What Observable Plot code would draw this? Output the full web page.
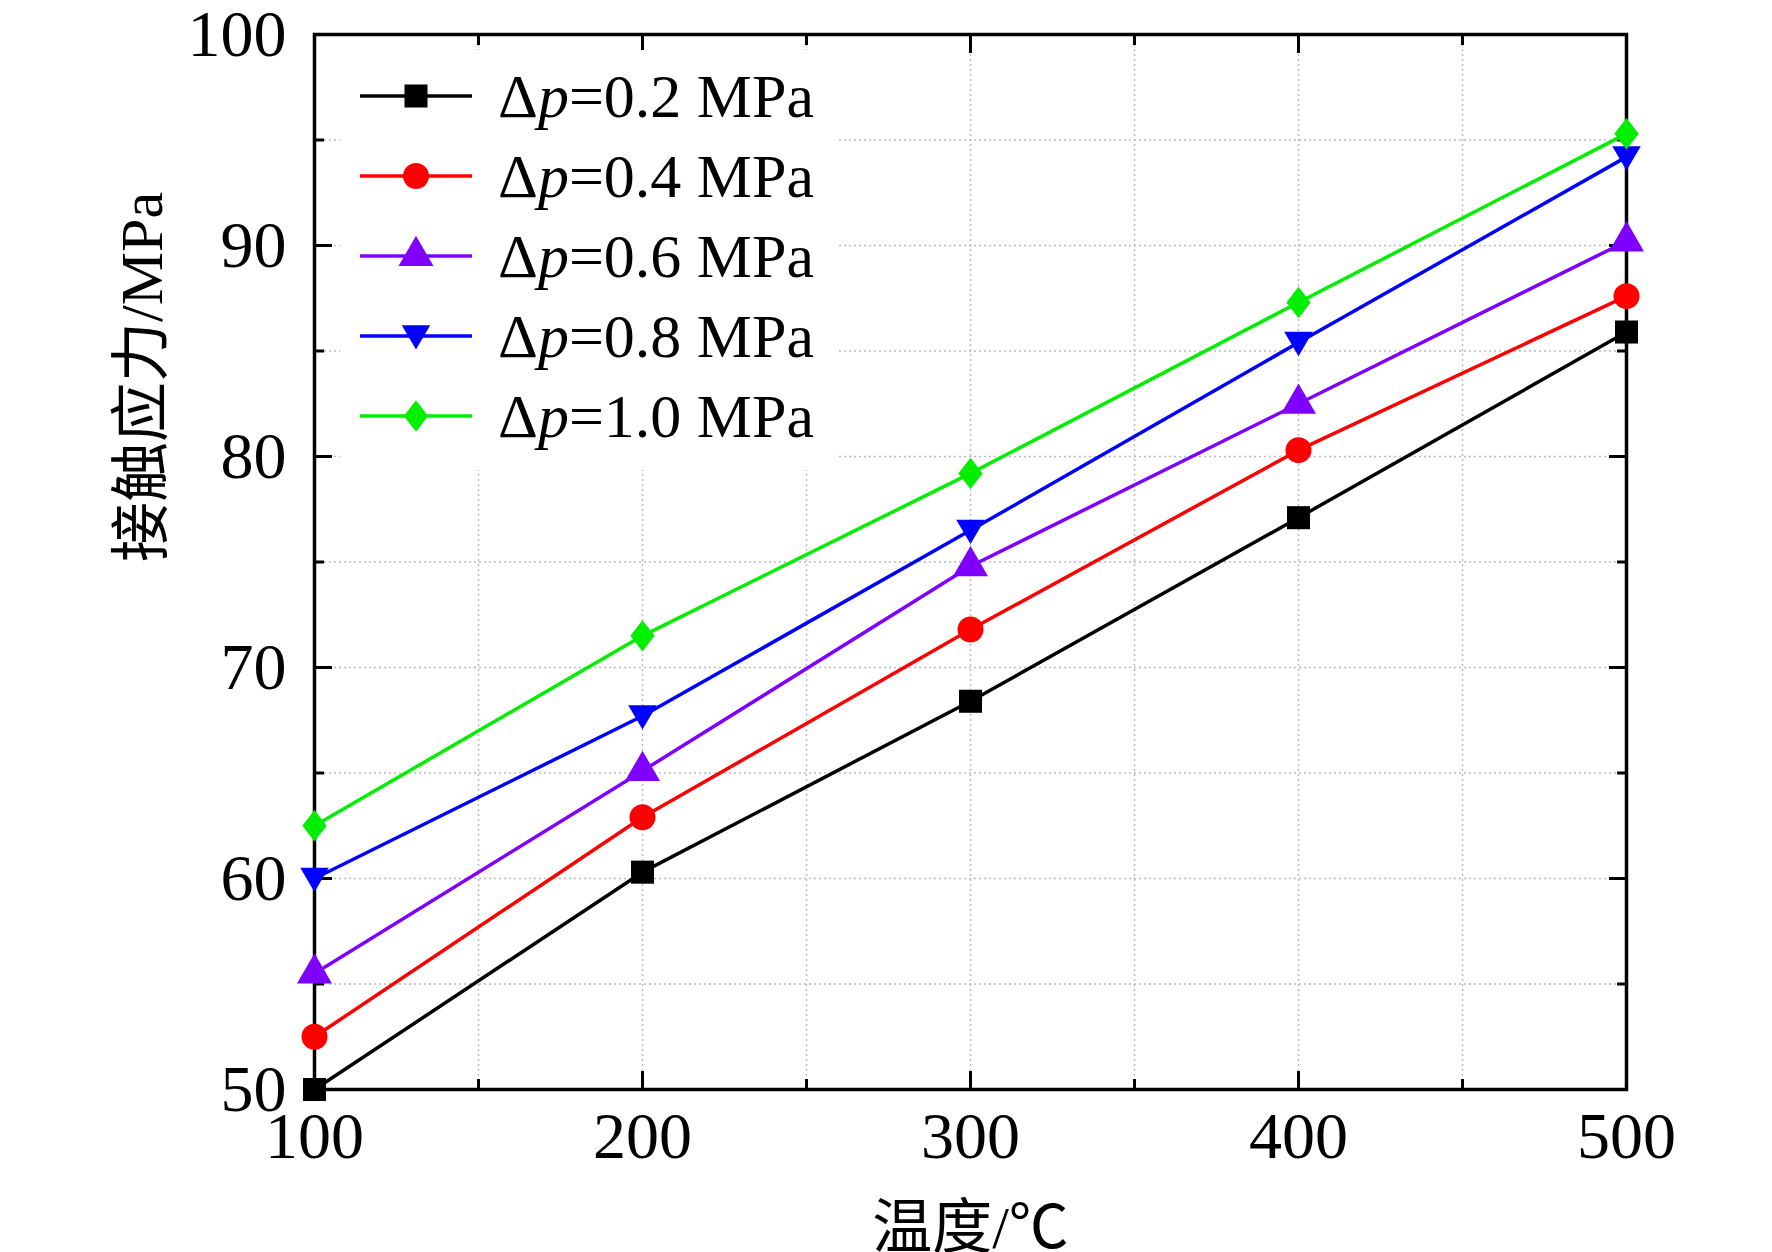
<!DOCTYPE html>
<html><head><meta charset="utf-8">
<script src="https://cdn.jsdelivr.net/npm/d3@7"></script>
<script src="https://cdn.jsdelivr.net/npm/@observablehq/plot@0.6"></script>
<style>
body{margin:0;background:#fff;}
#wrap{position:relative;width:1772px;height:1252px;}
#legend{position:absolute;left:340px;top:50px;background:#fff;padding:6px 22px 14px 20px;font-family:"Liberation Serif","Noto Sans CJK SC",serif;font-size:62px;}
.row{height:80px;display:flex;align-items:center;}
.row svg{margin-right:26px;}
</style></head><body>
<div id="wrap"><div id="legend"></div></div>
<script>
const temps=[100,200,300,400,500];
const series=["0.2","0.4","0.6","0.8","1.0"];
const colors=["#000000","#ff0000","#8000ff","#0000ff","#00ee00"];
const values=[
 [50.0,60.3,68.4,77.1,85.9],
 [52.5,62.9,71.8,80.3,87.6],
 [55.5,65.1,74.8,82.5,90.2],
 [60.0,67.7,76.5,85.4,94.2],
 [62.5,71.5,79.2,87.3,95.3]];
const triDown={draw(c,size){const s=Math.sqrt(size)*0.62;c.moveTo(-s,-s*0.75);c.lineTo(s,-s*0.75);c.lineTo(0,s*0.95);c.closePath();}};
const diamond={draw(c,size){const s=Math.sqrt(size)*0.62;c.moveTo(0,-s*1.1);c.lineTo(s*0.85,0);c.lineTo(0,s*1.1);c.lineTo(-s*0.85,0);c.closePath();}};
const symbols=[d3.symbolSquare,d3.symbolCircle,d3.symbolTriangle,triDown,diamond];
const data=[];
series.forEach((s,i)=>temps.forEach((t,j)=>data.push({s,t,v:values[i][j]})));
const font='"Liberation Serif","Noto Sans CJK SC",serif';
const plot=Plot.plot({
 width:1772,height:1252,marginLeft:314,marginRight:146,marginTop:34,marginBottom:163,
 style:{fontFamily:font,fontSize:"66px",color:"#000",background:"#fff"},
 x:{domain:[100,500],label:null},
 y:{domain:[50,100],label:null},
 marks:[
  Plot.ruleX(d3.range(150,500,50),{stroke:"#bbb",strokeDasharray:"2,3",strokeWidth:1.5}),
  Plot.ruleY(d3.range(55,100,5),{stroke:"#bbb",strokeDasharray:"2,3",strokeWidth:1.5}),
  Plot.axisX({ticks:d3.range(100,501,100),tickSize:-18,strokeWidth:3,tickPadding:40,fontSize:66}),
  Plot.axisX({ticks:d3.range(150,500,100),tickSize:-10,strokeWidth:3,tickFormat:()=>""}),
  Plot.axisX({anchor:"top",ticks:d3.range(100,501,100),tickSize:-18,strokeWidth:3,tickFormat:()=>""}),
  Plot.axisX({anchor:"top",ticks:d3.range(150,500,100),tickSize:-10,strokeWidth:3,tickFormat:()=>""}),
  Plot.axisY({ticks:d3.range(50,101,10),tickSize:-18,strokeWidth:3,tickPadding:46,fontSize:66}),
  Plot.axisY({ticks:d3.range(55,100,10),tickSize:-10,strokeWidth:3,tickFormat:()=>""}),
  Plot.axisY({anchor:"right",ticks:d3.range(50,101,10),tickSize:-18,strokeWidth:3,tickFormat:()=>""}),
  Plot.axisY({anchor:"right",ticks:d3.range(55,100,10),tickSize:-10,strokeWidth:3,tickFormat:()=>""}),
  Plot.frame({stroke:"#000",strokeWidth:3.5}),
  Plot.line(data,{x:"t",y:"v",z:"s",stroke:"s",strokeWidth:3.5}),
  ...series.map((s,i)=>Plot.dot(data.filter(d=>d.s===s),{x:"t",y:"v",fill:colors[i],stroke:null,symbol:()=>symbols[i],r:13})),
  Plot.text(["温度/℃"],{frameAnchor:"bottom",dy:158,fontSize:60,lineAnchor:"bottom"}),
  Plot.text(["接触应力/MPa"],{frameAnchor:"left",dx:-172,rotate:-90,fontSize:60})
 ],
 color:{domain:series,range:colors}
});
document.getElementById("wrap").prepend(plot);
const leg=document.getElementById("legend");
series.forEach((s,i)=>{
 const row=document.createElement("div");row.className="row";
 const path=d3.symbol(symbols[i],530)();
 row.innerHTML=`<svg width="112" height="40"><line x1="0" x2="112" y1="20" y2="20" stroke="${colors[i]}" stroke-width="3.5"/><path transform="translate(56,20)" d="${path}" fill="${colors[i]}"/></svg><span>Δ<i>p</i>=${s} MPa</span>`;
 leg.appendChild(row);
});
</script></body></html>
